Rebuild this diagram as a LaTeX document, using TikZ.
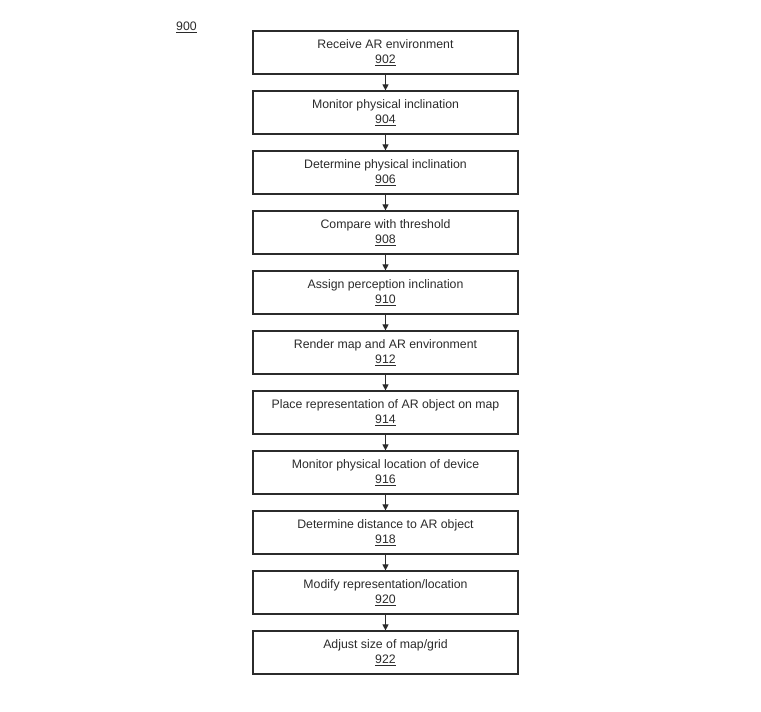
\documentclass[tikz,border=0pt]{standalone}
\usepackage{fontspec}
\setmainfont{Liberation Sans}
\usetikzlibrary{arrows.meta}
\definecolor{ink}{HTML}{2B2B2B}
\begin{document}
\begin{tikzpicture}[x=1pt,y=-1pt,
  stepbox/.style={draw=ink, line width=1.2pt, minimum width=265pt, minimum height=43pt,
    inner sep=0pt, align=center, text=ink, font=\fontsize{12.3}{15}\selectfont},
  flow/.style={draw=ink, line width=1.1pt, -{Triangle[length=6pt,width=6pt]}}]
\useasboundingbox (0,0) rectangle (761,712);
\node[text=ink, font=\fontsize{12.3}{15}\selectfont] (lbl) at (186.5,27) {\underline{900}};
\node[stepbox] (b1) at (385.5,52.5) {Receive AR environment\\\underline{902}};
\node[stepbox] (b2) at (385.5,112.5) {Monitor physical inclination\\\underline{904}};
\node[stepbox] (b3) at (385.5,172.5) {Determine physical inclination\\\underline{906}};
\node[stepbox] (b4) at (385.5,232.5) {Compare with threshold\\\underline{908}};
\node[stepbox] (b5) at (385.5,292.5) {Assign perception inclination\\\underline{910}};
\node[stepbox] (b6) at (385.5,352.5) {Render map and AR environment\\\underline{912}};
\node[stepbox] (b7) at (385.5,412.5) {Place representation of AR object on map\\\underline{914}};
\node[stepbox] (b8) at (385.5,472.5) {Monitor physical location of device\\\underline{916}};
\node[stepbox] (b9) at (385.5,532.5) {Determine distance to AR object\\\underline{918}};
\node[stepbox] (b10) at (385.5,592.5) {Modify representation/location\\\underline{920}};
\node[stepbox] (b11) at (385.5,652.5) {Adjust size of map/grid\\\underline{922}};
\foreach \a/\b in {b1/b2,b2/b3,b3/b4,b4/b5,b5/b6,b6/b7,b7/b8,b8/b9,b9/b10,b10/b11}
  \draw[flow] (\a.south) -- (\b.north);
\end{tikzpicture}
\end{document}
